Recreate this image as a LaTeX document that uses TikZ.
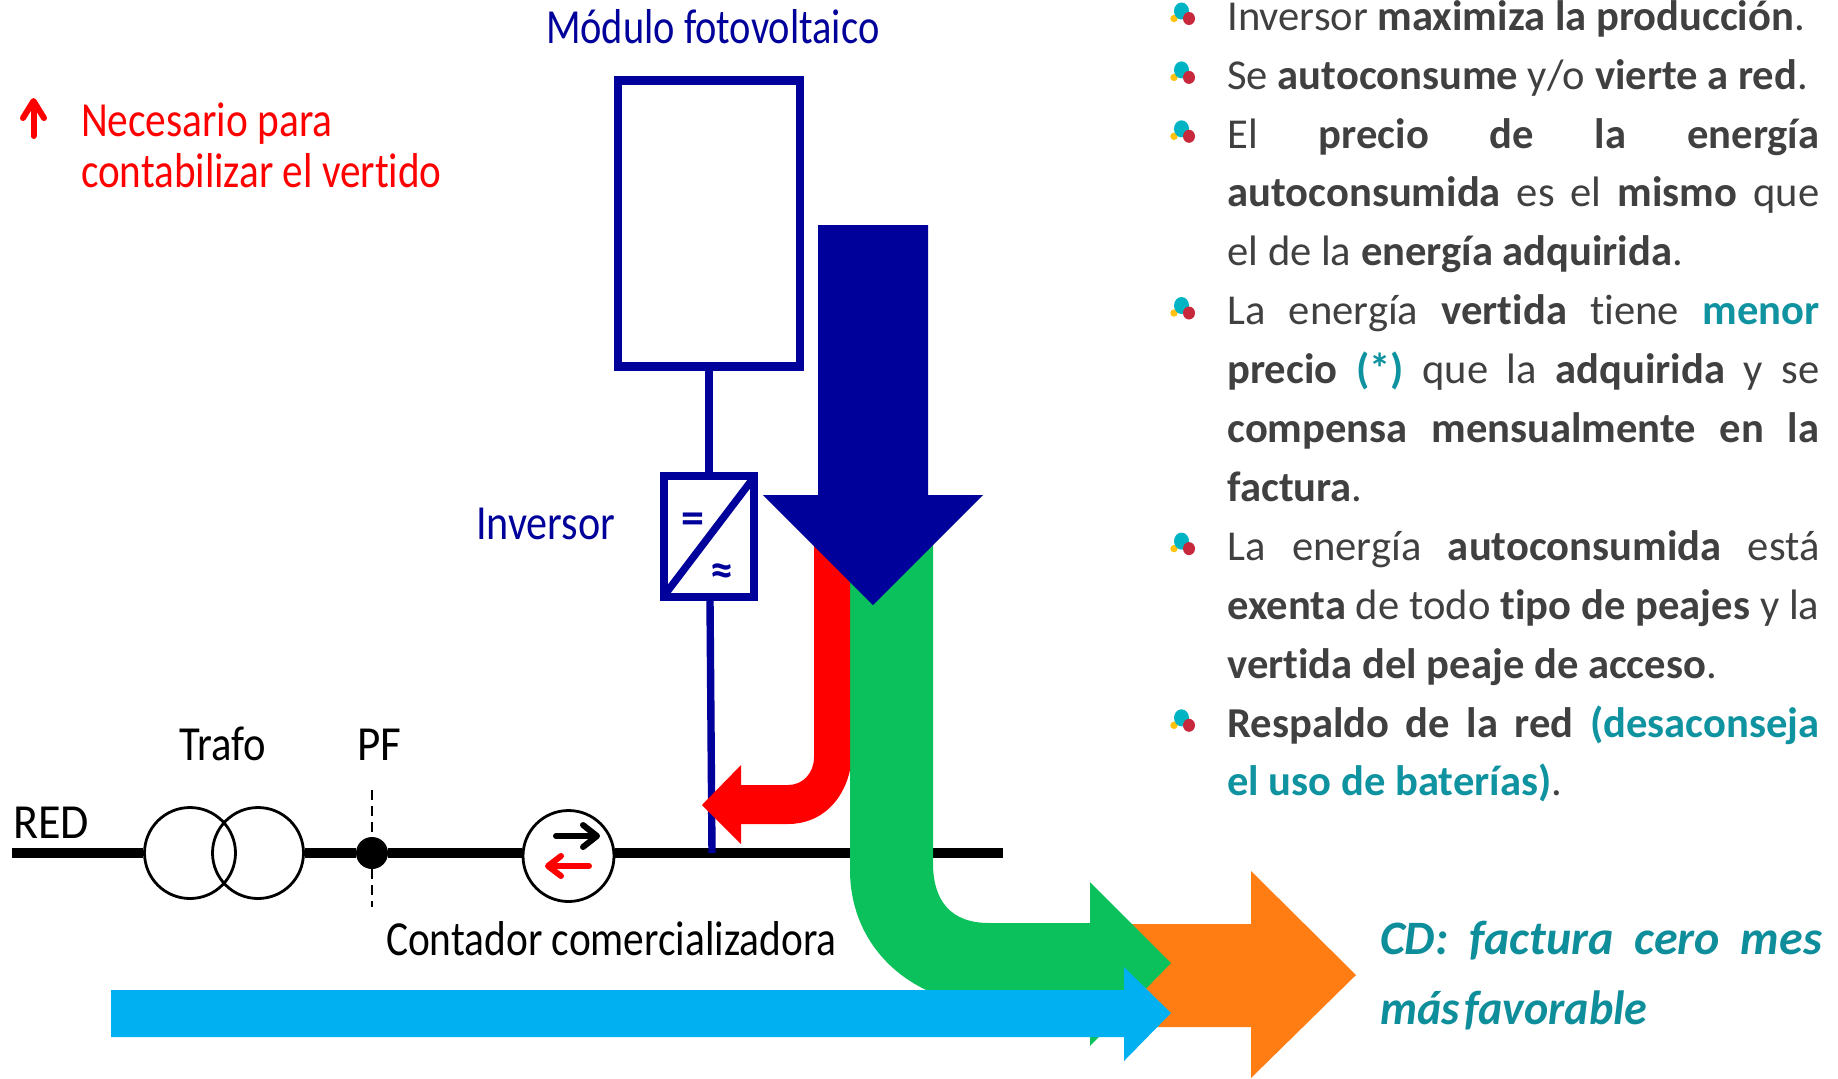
\documentclass[tikz,border=0pt]{standalone}
\usepackage{fontspec}
\setmainfont[Ligatures=NoCommon]{Carlito}
\usetikzlibrary{shapes.geometric}
\definecolor{navy}{HTML}{00009A}
\definecolor{flowgreen}{HTML}{0BC15B}
\definecolor{floworange}{HTML}{FF7D13}
\definecolor{flowcyan}{HTML}{00B0F0}
\definecolor{txtdark}{HTML}{404040}
\definecolor{teal}{HTML}{0F93A0}
\definecolor{cdteal}{HTML}{0E8E9A}
\definecolor{bulcyan}{HTML}{00B4C4}
\definecolor{bulred}{HTML}{C8283C}
\definecolor{bulyel}{HTML}{FFC20E}
\newcommand{\tl}[1]{\textcolor{teal}{\textbf{#1}}}
\tikzset{
  lbl/.style={anchor=base west,inner sep=0pt,outer sep=0pt,font=\fontsize{24.5}{28}\selectfont},
  navybox/.style={draw=navy,line width=3.9pt,fill=white,inner sep=0pt},
  navyline/.style={draw=navy,line width=3.7pt},
  winding/.style={circle,draw=black,line width=1.4pt,minimum size=45.5pt,inner sep=0pt},
  bus/.style={draw=black,line width=4.7pt},
  smallarrow/.style={line width=3pt,line cap=round,line join=round},
  bul/.pic={
    \fill[bulyel] (-7,6.5) circle (3.7);
    \fill[bulcyan] (.5,-1) ellipse (7.5 and 8.5);
    \fill[bulred] (8,6.5) ellipse (6 and 6.5);
  }
}
\begin{document}
\begin{tikzpicture}[x=.5pt,y=-.5pt]
\useasboundingbox[fill=white] (0,0) rectangle (1838,1078);
% equipment nodes
\node[navybox,line width=4.2pt,minimum width=91pt,minimum height=143pt] (mod) at (709,223.3) {};
\node[navybox,minimum width=45pt,minimum height=60.5pt] (inv) at (709,536.5) {};
\node[winding] (t1) at (190,853) {};
\node[winding] (t2) at (258,853) {};
\node[circle,fill=black,minimum size=16pt,inner sep=0pt] (pf) at (372,853) {};
\node[circle,draw=black,line width=1.4pt,minimum size=45.5pt,inner sep=0pt] (meter) at (568.5,856) {};
\coordinate (busstart) at (12,853);
\coordinate (busend) at (1003,853);
\coordinate (junction) at (712,853);
\coordinate (invout) at (710,601);
\coordinate (pftop) at (372,790);
\coordinate (pfbot) at (372,907);
% connectors
\draw[bus] (busstart) -- (t1.west |- busstart);
\draw[bus] (t2.east |- busstart) -- (pf);
\draw[bus] (pf) -- (meter.west |- pf);
\draw[bus] (meter.east |- busstart) -- (busend);
\draw[draw=black,line width=.8pt,dash pattern=on 5pt off 3pt] (pftop) -- (pf) -- (pfbot);
\draw[navyline] (mod.south) -- (inv.north);
\draw[navyline] (invout) -- (junction);
% inverter diagonal and signs
\draw[navyline,shorten >=2.5pt,shorten <=2.5pt] (inv.north east) -- (inv.south west);
\node[inner sep=0pt,text=navy,font=\bfseries\fontsize{23}{24}\selectfont] (eq) at (693,523) {=};
\node[inner sep=0pt,text=navy,font=\bfseries\fontsize{23}{24}\selectfont] (aprox) at (722,575) {≈};
% meter arrows
\draw[smallarrow,black] (556,836) -- (596,836);
\draw[smallarrow,black] (583,825) -- (597,836) -- (583,847);
\draw[smallarrow,red] (589,866) -- (549,866);
\draw[smallarrow,red] (561,856) -- (548,866) -- (561,876);
% flows
\fill[floworange] (1130,924) -- (1251,924) -- (1251,871) -- (1356,975) -- (1251,1078) -- (1251,1027) -- (1130,1027) -- cycle;
\fill[flowgreen] (850,530) -- (933,530) -- (933,863) .. controls (933,900) and (950,923) .. (989,923) -- (1090,923) -- (1090,882) -- (1171,963) -- (1090,1046) -- (1090,1004) -- (990,1004) .. controls (915,1004) and (850,950) .. (850,870) -- cycle;
\fill[red] (814,530) -- (850,530) -- (850,770) .. controls (843,802) and (820,824) .. (788,824) -- (741,824) -- (741,844) -- (702,805) -- (741,765) -- (741,785) -- (788,785) .. controls (803,785) and (814,773) .. (814,757) -- cycle;
\fill[navy] (818,225) -- (928,225) -- (928,495) -- (983,495) -- (873,605) -- (763,495) -- (818,495) -- cycle;
\fill[flowcyan] (111,990) -- (1124,990) -- (1124,967) -- (1171,1013) -- (1124,1061) -- (1124,1037) -- (111,1037) -- cycle;
% red up arrow
\draw[smallarrow,red] (33.5,136) -- (33.5,102);
\draw[smallarrow,red] (23,118) -- (33.5,101) -- (44,118);
% labels
\node[lbl,text=navy] (lmod) at (546,43) {\scalebox{.825}[1]{Módulo fotovoltaico}};
\node[lbl,text=navy] (linv) at (476,539) {\scalebox{.86}[1]{Inversor}};
\node[lbl] (lred) at (13,838) {\scalebox{.94}[1]{RED}};
\node[lbl] (ltrafo) at (179,760) {\scalebox{.87}[1]{Trafo}};
\node[lbl] (lpf) at (357,760) {\scalebox{.92}[1]{PF}};
\node[lbl] (lcont) at (386,955) {\scalebox{.845}[1]{Contador comercializadora}};
\node[lbl,text=red] (lnec1) at (81,136) {\scalebox{.845}[1]{Necesario para}};
\node[lbl,text=red] (lnec2) at (81,187) {\scalebox{.84}[1]{contabilizar el vertido}};
\node[lbl,text=cdteal,font=\itshape\bfseries\fontsize{24}{28}\selectfont] (lcd1) at (1380,954) {\makebox[221pt][s]{CD: factura cero mes}};
\node[lbl,text=cdteal,font=\itshape\bfseries\fontsize{24}{28}\selectfont] (lcd2) at (1380,1024) {\scalebox{.96}[1]{\spaceskip=2.5pt más favorable}};
% bullets
\foreach \n in {0,1,2,5,9,12} \pic at (1181,{12+58.9*\n}) {bul};
% right text
\node[anchor=north west,inner sep=0pt,text width=296pt,text=txtdark,align=justify,font=\fontsize{21.3}{29.45}\selectfont] (txt) at (1227,0) {\tolerance=9999\hbadness=10000\hfuzz=5pt
Inversor \textbf{maximiza la producción}.\par
Se \textbf{autoconsume} y/o \textbf{vierte a red}.\par
El \textbf{precio de la energía}\linebreak
\textbf{autoconsumida} es el \textbf{mismo} que\linebreak
el de la \textbf{energía adquirida}.\par
La energía \textbf{vertida} tiene \tl{menor}\linebreak
\textbf{precio} \tl{(*)} que la \textbf{adquirida} y se\linebreak
\textbf{compensa mensualmente en la}\linebreak
\textbf{factura}.\par
La energía \textbf{autoconsumida} está\linebreak
\textbf{exenta} de todo \textbf{tipo de peajes} y la\linebreak
\textbf{vertida del peaje de acceso}.\par
\textbf{Respaldo de la red} \tl{(desaconseja}\linebreak
\tl{el uso de baterías)}.\par};
\end{tikzpicture}
\end{document}
